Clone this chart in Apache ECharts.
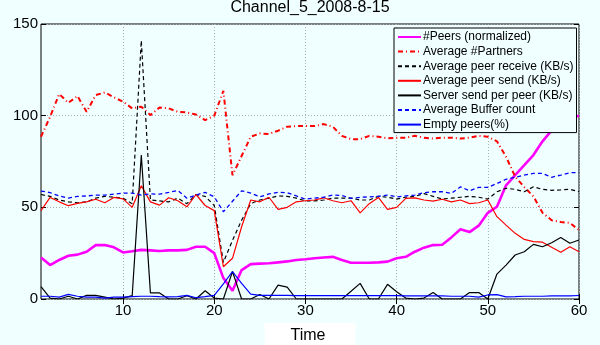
<!DOCTYPE html>
<html>
<head>
<meta charset="utf-8">
<script src="https://cdn.jsdelivr.net/npm/echarts@6/dist/echarts.min.js"></script>
<style>
html,body{margin:0;padding:0;background:#f0ffff;}
#chart{width:600px;height:345px;}
</style>
</head>
<body>
<div id="chart"></div>
<script>
var title = 'Channel_5_2008-8-15';
var xName = 'Time';
var time = [1,2,3,4,5,6,7,8,9,10,11,12,13,14,15,16,17,18,19,20,21,22,23,24,25,26,27,28,29,30,31,32,33,34,35,36,37,38,39,40,41,42,43,44,45,46,47,48,49,50,51,52,53,54,55,56,57,58,59,60];
var xTicks = [10,20,30,40,50,60];
var yTicks = [0,50,100,150];
var seriesNames = ['#Peers (normalized)','Average #Partners','Average peer receive (KB/s)','Average peer send (KB/s)','Server send per peer (KB/s)','Average Buffer count','Empty peers(%)'];

var peers = [22.7,18.5,21.3,23.6,24.2,25.8,29.4,29.4,28.2,25.4,26,26.8,26.5,26.2,26.5,26.5,26.8,28.5,28.5,25,11.4,4.5,15.8,19,19.3,19.5,20,20.5,21.3,21.7,22.2,22.6,23,21.3,19.8,19.8,19.8,20,20.4,22.2,23,25.8,28,29.4,29.6,33.6,38,36.5,40,47,50.3,62,67.6,73,78.5,86,92,96,98.5,100];
var partners = [88.5,99.4,111.8,107,110.7,102.1,111.2,112.7,110,107.6,104,104.9,100.3,104.5,104,102.1,101.8,100.6,97.6,100,113.5,67.5,78,88.5,90.3,90,91.8,94,94.3,94.3,94.3,95.4,94,89,87.2,87.2,89,88.5,87.6,88,88,89,88,87.5,88,88,87.5,88,89,88.5,86,77.6,66.7,61,56,47,43,42,41.5,37.6];
var receive = [57,56,54,53,52.5,53,55,56,55.5,55,52,141,54,53.5,53,55,52,57,56,51,20,32,43,52,54,55,56.2,56,55,53.5,53.5,54,55,55,55,54,54,56,55.5,54.5,55.5,56,57.5,56,54.5,55,55.5,56,55.5,54.5,58.5,60.4,59.8,58.5,61.2,59.8,59.3,59.5,59.8,58.5];
var send = [48.2,55.4,53,50.9,52.2,53,54.4,52.5,55.4,54.6,50,61.8,53,51.2,55.2,53.6,50.3,57,51,48.2,17.6,22.2,39.4,54,53,55.5,48.9,50,53,53.6,54,55.2,53.6,52.5,53.6,47,52,55.4,48.9,50,54.9,55.2,54,53.4,54.4,53,54,52,52.5,54,44.9,40.3,35.8,32.5,31.3,31,28.2,25.5,28.5,25.8];
var server = [6.7,0.5,0,1.5,0,2,2,1,0,0.5,1.8,78.5,3.3,3.3,0,0,1.8,0,4.5,0.5,0,15,0,0,2.5,0,7.6,6.5,0,0,0,0,0,0,4.2,8.5,0,0,8,4,0.5,0,0.5,3.5,0,0,0,3.5,3.5,0,13.6,18.5,24,25.8,29.8,28.5,30.7,33.6,30.4,32.2];
var buffer = [58.9,58,56.2,55,56,56.2,56.7,56.7,57.2,57.8,57.8,56.7,57.3,57.2,58.1,59.2,55,56.7,58.2,55.7,47.6,53.3,59,57.8,55.7,57.3,58.2,58,56.2,54.5,55,55.5,56.7,56.5,54.9,55.5,55.7,56,56.7,55.7,56.2,56.7,58,58.5,58.5,57.6,61.2,59,60.9,60.9,63,65.3,66.4,67.6,68.5,68.5,66.4,67.6,68.9,69];
var empty = [1.5,1.5,1,2.5,1.5,1,1,0.5,1,1,1.3,1.5,1.5,1.3,1.2,1.3,2,0.7,1.3,2,8.3,15,8.5,2.7,2,2,2,2,1.8,1.8,1.8,1.8,1.8,1.8,1.8,1.8,1.8,1.8,1.8,1.8,1.7,1.7,1.7,1.7,1.7,1.5,1.5,1.5,1.0,2.2,2.4,1.2,1.3,1.5,1.5,1.5,1.7,1.7,1.7,1.9];

var values = [peers, partners, receive, send, server, buffer, empty];
var styles = [
  {color:'#ff00ff', width:2.6, type:'solid'},
  {color:'#ff0000', width:2, type:[5,3,1,3]},
  {color:'#000000', width:1.2, type:[4,3]},
  {color:'#ff0000', width:1.2, type:'solid'},
  {color:'#000000', width:1.2, type:'solid'},
  {color:'#0000ff', width:1.3, type:[4,3]},
  {color:'#0000ff', width:1.2, type:'solid'}
];

function pairs(arr){ return time.map(function(t,i){ return [t, arr[i]]; }); }

var FONT = 'Liberation Sans';
var series = seriesNames.map(function(n,i){
  return {
    name:n, type:'line', data:pairs(values[i]), symbol:'none', showSymbol:false,
    xAxisIndex:0, yAxisIndex:0,
    lineStyle:{color:styles[i].color, width:styles[i].width, type:styles[i].type},
    itemStyle:{color:styles[i].color},
    animation:false
  };
});

var chart = echarts.init(document.getElementById('chart'), null, {renderer:'canvas'});
chart.setOption({
  backgroundColor:'#f0ffff',
  animation:false,
  textStyle:{fontFamily:FONT},
  title:{text:title, left:305, textAlign:'center', top:0, padding:[0,5],
    textStyle:{fontFamily:FONT, fontSize:16, fontWeight:'normal', color:'#000'}},
  grid:{left:41, right:21, top:24, bottom:46, show:true, borderColor:'#000', borderWidth:1, backgroundColor:'transparent', containLabel:false, outerBoundsMode:'none'},
  legend:{
    orient:'vertical', left:394, top:28, padding:[3,3,2,3],
    itemWidth:23, itemHeight:14, itemGap:2.6,
    itemStyle:{opacity:0},
    backgroundColor:'#f0ffff', borderColor:'#000', borderWidth:1,
    textStyle:{fontFamily:FONT, fontSize:12, color:'#000', padding:[0,0,0,-3]},
    data:seriesNames
  },
  xAxis:[{
    type:'value', min:1, max:60, position:'bottom',
    name:xName, nameLocation:'middle', nameGap:18,
    nameTextStyle:{fontFamily:FONT, fontSize:16, color:'#000', backgroundColor:'#ffffff', padding:[5,30,10,26]},
    axisLine:{show:false},
    axisTick:{show:true, inside:true, length:5, lineStyle:{color:'#000'}, customValues:xTicks},
    axisLabel:{fontFamily:FONT, fontSize:15, color:'#000', margin:4, customValues:xTicks},
    splitLine:{show:true, lineStyle:{color:'#a8b0b0', type:[1,2], width:1}}
  },{
    type:'value', min:1, max:60, position:'top',
    axisLine:{show:false},
    axisTick:{show:true, inside:true, length:5, lineStyle:{color:'#000'}, customValues:xTicks},
    axisLabel:{show:false, customValues:xTicks},
    splitLine:{show:false}
  }],
  yAxis:[{
    type:'value', min:0, max:150, interval:50, position:'left',
    axisLine:{show:false},
    axisTick:{show:true, inside:true, length:5, lineStyle:{color:'#000'}},
    axisLabel:{fontFamily:FONT, fontSize:15, color:'#000', margin:3},
    splitLine:{show:true, lineStyle:{color:'#a8b0b0', type:[1,2], width:1}}
  },{
    type:'value', min:0, max:150, interval:50, position:'right',
    axisLine:{show:false},
    axisTick:{show:true, inside:true, length:5, lineStyle:{color:'#000'}},
    axisLabel:{show:false},
    splitLine:{show:false}
  }],
  series:series
});
</script>
</body>
</html>
